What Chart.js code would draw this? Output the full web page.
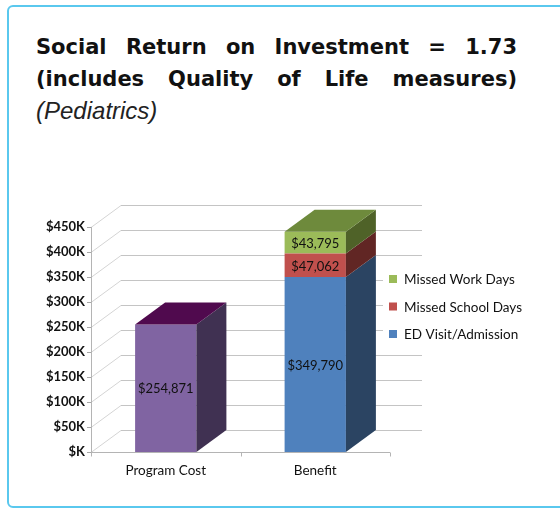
<!DOCTYPE html>
<html>
<head>
<meta charset="utf-8">
<script src="https://cdn.jsdelivr.net/npm/chart.js@4.4.0/dist/chart.umd.min.js"></script>
<style>
    html, body { margin: 0; padding: 0; background: #fff; }
    body { width: 560px; height: 514px; position: relative; overflow: hidden; }
    .frame {
        position: absolute; left: 7px; top: 5px; width: 580px; height: 503px;
        border: 2px solid #5ac8ee; border-radius: 6px; box-sizing: border-box;
    }
    .title {
        position: absolute; left: 36px; top: 31px; width: 481px;
        font-family: 'DejaVu Sans', sans-serif; font-weight: bold; font-size: 21px;
        line-height: 32px; color: #111;
    }
    .title .line { text-align: justify; text-align-last: justify; }
    .title .sub {
        font-family: 'Liberation Sans', Arial, sans-serif; font-weight: normal;
        font-style: italic; font-size: 24px; color: #222;
    }
    canvas { position: absolute; left: 0; top: 0; }
</style>
</head>
<body>
<div class="frame"></div>
<div class="title">
    <div class="line">Social Return on Investment = 1.73</div>
    <div class="line">(includes Quality of Life measures)</div>
    <div class="sub">(Pediatrics)</div>
</div>
<canvas id="sroiChart" width="560" height="514"></canvas>
<script>
(function() {
    'use strict';

    // Chart data
    const categories = ['Program Cost', 'Benefit'];
    const programCost = [254871, null];
    const edVisit = [null, 349790];
    const missedSchool = [null, 47062];
    const missedWork = [null, 43795];

    const yMax = 450000;
    const yStep = 50000;

    // side / top colours per series
    const faces = {
        'Program Cost': { side: '#403152', top: '#500a4e' },
        'ED Visit/Admission': { side: '#2b4462', top: '#3a5f8c' },
        'Missed School Days': { side: '#612624', top: '#8a3735' },
        'Missed Work Days': { side: '#4f6228', top: '#6e8a3c' }
    };

    const depth = { dx: 30, dy: -22 };

    function money(v) {
        return '$' + v.toLocaleString('en-US');
    }

    function line(ctx, x1, y1, x2, y2) {
        ctx.beginPath();
        ctx.moveTo(x1, y1);
        ctx.lineTo(x2, y2);
        ctx.stroke();
    }

    // back wall, left wall diagonals and axis lines
    const wallPlugin = {
        id: 'wall3d',
        beforeDatasetsDraw(chart) {
            const ctx = chart.ctx;
            const y = chart.scales.y;
            const x = chart.scales.x;
            const area = chart.chartArea;
            ctx.save();
            ctx.lineWidth = 1;
            y.ticks.forEach(t => {
                const py = Math.round(y.getPixelForValue(t.value)) + 0.5;
                ctx.strokeStyle = '#d4d4d4';
                line(ctx, area.left, py, area.left + depth.dx, py + depth.dy);
                ctx.strokeStyle = '#c4c4c4';
                line(ctx, area.left + depth.dx, py + depth.dy, area.right + depth.dx + 2, py + depth.dy);
                ctx.strokeStyle = '#a8a8a8';
                line(ctx, area.left - 4, py, area.left, py);
            });
            const lx = Math.round(area.left) + 0.5;
            const by = Math.round(area.bottom) + 0.5;
            ctx.strokeStyle = '#b4b4b4';
            line(ctx, lx, area.top, lx, by);
            line(ctx, area.left, by, area.right, by);
            // category boundary ticks
            for (let i = 0; i <= categories.length; i++) {
                const px = Math.round(x.left + (x.right - x.left) * i / categories.length) + 0.5;
                line(ctx, px, by, px, by + 4);
            }
            ctx.restore();
        }
    };

    // side and top faces plus value labels
    const barPlugin = {
        id: 'bar3d',
        afterDatasetsDraw(chart) {
            const ctx = chart.ctx;
            const datasets = chart.data.datasets;
            ctx.save();
            categories.forEach((_, idx) => {
                let topMost = -1;
                datasets.forEach((ds, di) => { if (ds.data[idx] != null) topMost = di; });
                datasets.forEach((ds, di) => {
                    if (ds.data[idx] == null) return;
                    const bar = chart.getDatasetMeta(di).data[idx];
                    const l = bar.x - bar.width / 2;
                    const r = bar.x + bar.width / 2;
                    const t = Math.min(bar.y, bar.base);
                    const b = Math.max(bar.y, bar.base);
                    const f = faces[ds.label];
                    ctx.fillStyle = f.side;
                    ctx.beginPath();
                    ctx.moveTo(r, t);
                    ctx.lineTo(r + depth.dx, t + depth.dy);
                    ctx.lineTo(r + depth.dx, b + depth.dy);
                    ctx.lineTo(r, b);
                    ctx.closePath();
                    ctx.fill();
                    if (di === topMost) {
                        ctx.fillStyle = f.top;
                        ctx.beginPath();
                        ctx.moveTo(l, t);
                        ctx.lineTo(l + depth.dx, t + depth.dy);
                        ctx.lineTo(r + depth.dx, t + depth.dy);
                        ctx.lineTo(r, t);
                        ctx.closePath();
                        ctx.fill();
                    }
                    ctx.fillStyle = '#111';
                    ctx.font = '13px Lato';
                    ctx.textAlign = 'center';
                    ctx.textBaseline = 'middle';
                    ctx.fillText(money(ds.data[idx]), bar.x, (t + b) / 2 + 1);
                });
            });
            ctx.restore();
        }
    };

    // legend at the right of the back wall
    const legendPlugin = {
        id: 'sideLegend',
        afterDraw(chart) {
            const ctx = chart.ctx;
            const items = chart.data.datasets.filter(ds => ds.label !== 'Program Cost').reverse();
            ctx.save();
            ctx.fillStyle = '#fff';
            ctx.fillRect(383, 263, 150, 84);
            ctx.font = '13.5px Lato';
            ctx.textAlign = 'left';
            ctx.textBaseline = 'middle';
            items.forEach((ds, i) => {
                const cy = 279 + i * 27.5;
                ctx.fillStyle = ds.backgroundColor;
                ctx.fillRect(389, cy - 4, 8, 8);
                ctx.fillStyle = '#111';
                ctx.fillText(ds.label, 404, cy + 1);
            });
            ctx.restore();
        }
    };

    new Chart(document.getElementById('sroiChart'), {
        type: 'bar',
        data: {
            labels: categories,
            datasets: [
                { label: 'Program Cost', data: programCost, backgroundColor: '#8064a2' },
                { label: 'ED Visit/Admission', data: edVisit, backgroundColor: '#4f81bd' },
                { label: 'Missed School Days', data: missedSchool, backgroundColor: '#c0504d' },
                { label: 'Missed Work Days', data: missedWork, backgroundColor: '#9bbb59' }
            ]
        },
        options: {
            responsive: false,
            animation: false,
            devicePixelRatio: 1,
            layout: { padding: { left: 36, top: 227, right: 170, bottom: 32 } },
            datasets: {
                bar: { barPercentage: 0.41, categoryPercentage: 1, borderWidth: 0 }
            },
            plugins: {
                legend: { display: false },
                tooltip: { enabled: false }
            },
            scales: {
                x: {
                    stacked: true,
                    grid: { display: false, drawTicks: false },
                    border: { display: false },
                    ticks: { padding: 11, color: '#111', font: { family: 'Lato', size: 13.5 } },
                    afterFit(scale) { scale.height = 30; }
                },
                y: {
                    stacked: true,
                    min: 0,
                    max: yMax,
                    grid: { display: false, drawTicks: false },
                    border: { display: false },
                    ticks: {
                        stepSize: yStep,
                        padding: 6,
                        color: '#111',
                        font: { family: 'Lato', size: 13, weight: 'bold' },
                        callback: v => v === 0 ? '$K' : '$' + (v / 1000) + 'K'
                    },
                    afterFit(scale) { scale.width = 55; }
                }
            }
        },
        plugins: [wallPlugin, barPlugin, legendPlugin]
    });
})();
</script>
</body>
</html>
